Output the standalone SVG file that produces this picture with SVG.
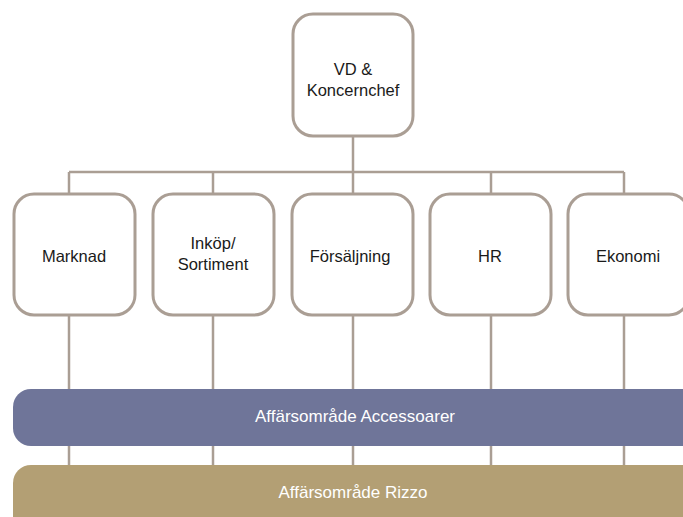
<svg xmlns="http://www.w3.org/2000/svg" width="683" height="517" viewBox="0 0 683 517">
<style>
.box{fill:#fff;stroke:#aa9e94;stroke-width:3}
.ln{stroke:#aa9e94;stroke-width:2.5;fill:none}
.t{font-family:"Liberation Sans",Arial,sans-serif;font-size:16.5px;fill:#1a1a1a;text-anchor:middle}
.w{font-family:"Liberation Sans",Arial,sans-serif;font-size:17px;fill:#fff;text-anchor:middle}
</style>
<rect width="683" height="517" fill="#fff"/>
<g id="connectors">
<line class="ln" x1="353" y1="136" x2="353" y2="172"/>
<line class="ln" x1="69" y1="172" x2="624" y2="172"/>
<line class="ln" x1="69" y1="172" x2="69" y2="194"/>
<line class="ln" x1="213" y1="172" x2="213" y2="194"/>
<line class="ln" x1="353" y1="172" x2="353" y2="194"/>
<line class="ln" x1="491" y1="172" x2="491" y2="194"/>
<line class="ln" x1="624" y1="172" x2="624" y2="194"/>
<line class="ln" x1="69" y1="315" x2="69" y2="466"/>
<line class="ln" x1="213" y1="315" x2="213" y2="466"/>
<line class="ln" x1="353" y1="315" x2="353" y2="466"/>
<line class="ln" x1="491" y1="315" x2="491" y2="466"/>
<line class="ln" x1="624" y1="315" x2="624" y2="466"/>
</g>
<g id="vd">
<rect class="box" x="293" y="14" width="120" height="122" rx="20"/>
<text class="t" x="353" y="75">VD &amp;</text>
<text class="t" x="353" y="96">Koncernchef</text>
</g>
<g id="marknad">
<rect class="box" x="14" y="194" width="121" height="121" rx="20"/>
<text class="t" x="74" y="262">Marknad</text>
</g>
<g id="inkop">
<rect class="box" x="153" y="194" width="121" height="121" rx="20"/>
<text class="t" x="213" y="249">Inköp/</text>
<text class="t" x="213" y="270">Sortiment</text>
</g>
<g id="forsaljning">
<rect class="box" x="292" y="194" width="121" height="121" rx="20"/>
<text class="t" x="350" y="262">Försäljning</text>
</g>
<g id="hr">
<rect class="box" x="430" y="194" width="121" height="121" rx="20"/>
<text class="t" x="490" y="262">HR</text>
</g>
<g id="ekonomi">
<rect class="box" x="568" y="194" width="121" height="121" rx="20"/>
<text class="t" x="628" y="262">Ekonomi</text>
</g>
<g id="accessoarer">
<rect x="13" y="389" width="690" height="57" rx="18" fill="#6f7599"/>
<text class="w" x="355" y="422">Affärsområde Accessoarer</text>
</g>
<g id="rizzo">
<rect x="13" y="465" width="690" height="70" rx="18" fill="#b39f74"/>
<text class="w" x="353" y="498">Affärsområde Rizzo</text>
</g>
</svg>
